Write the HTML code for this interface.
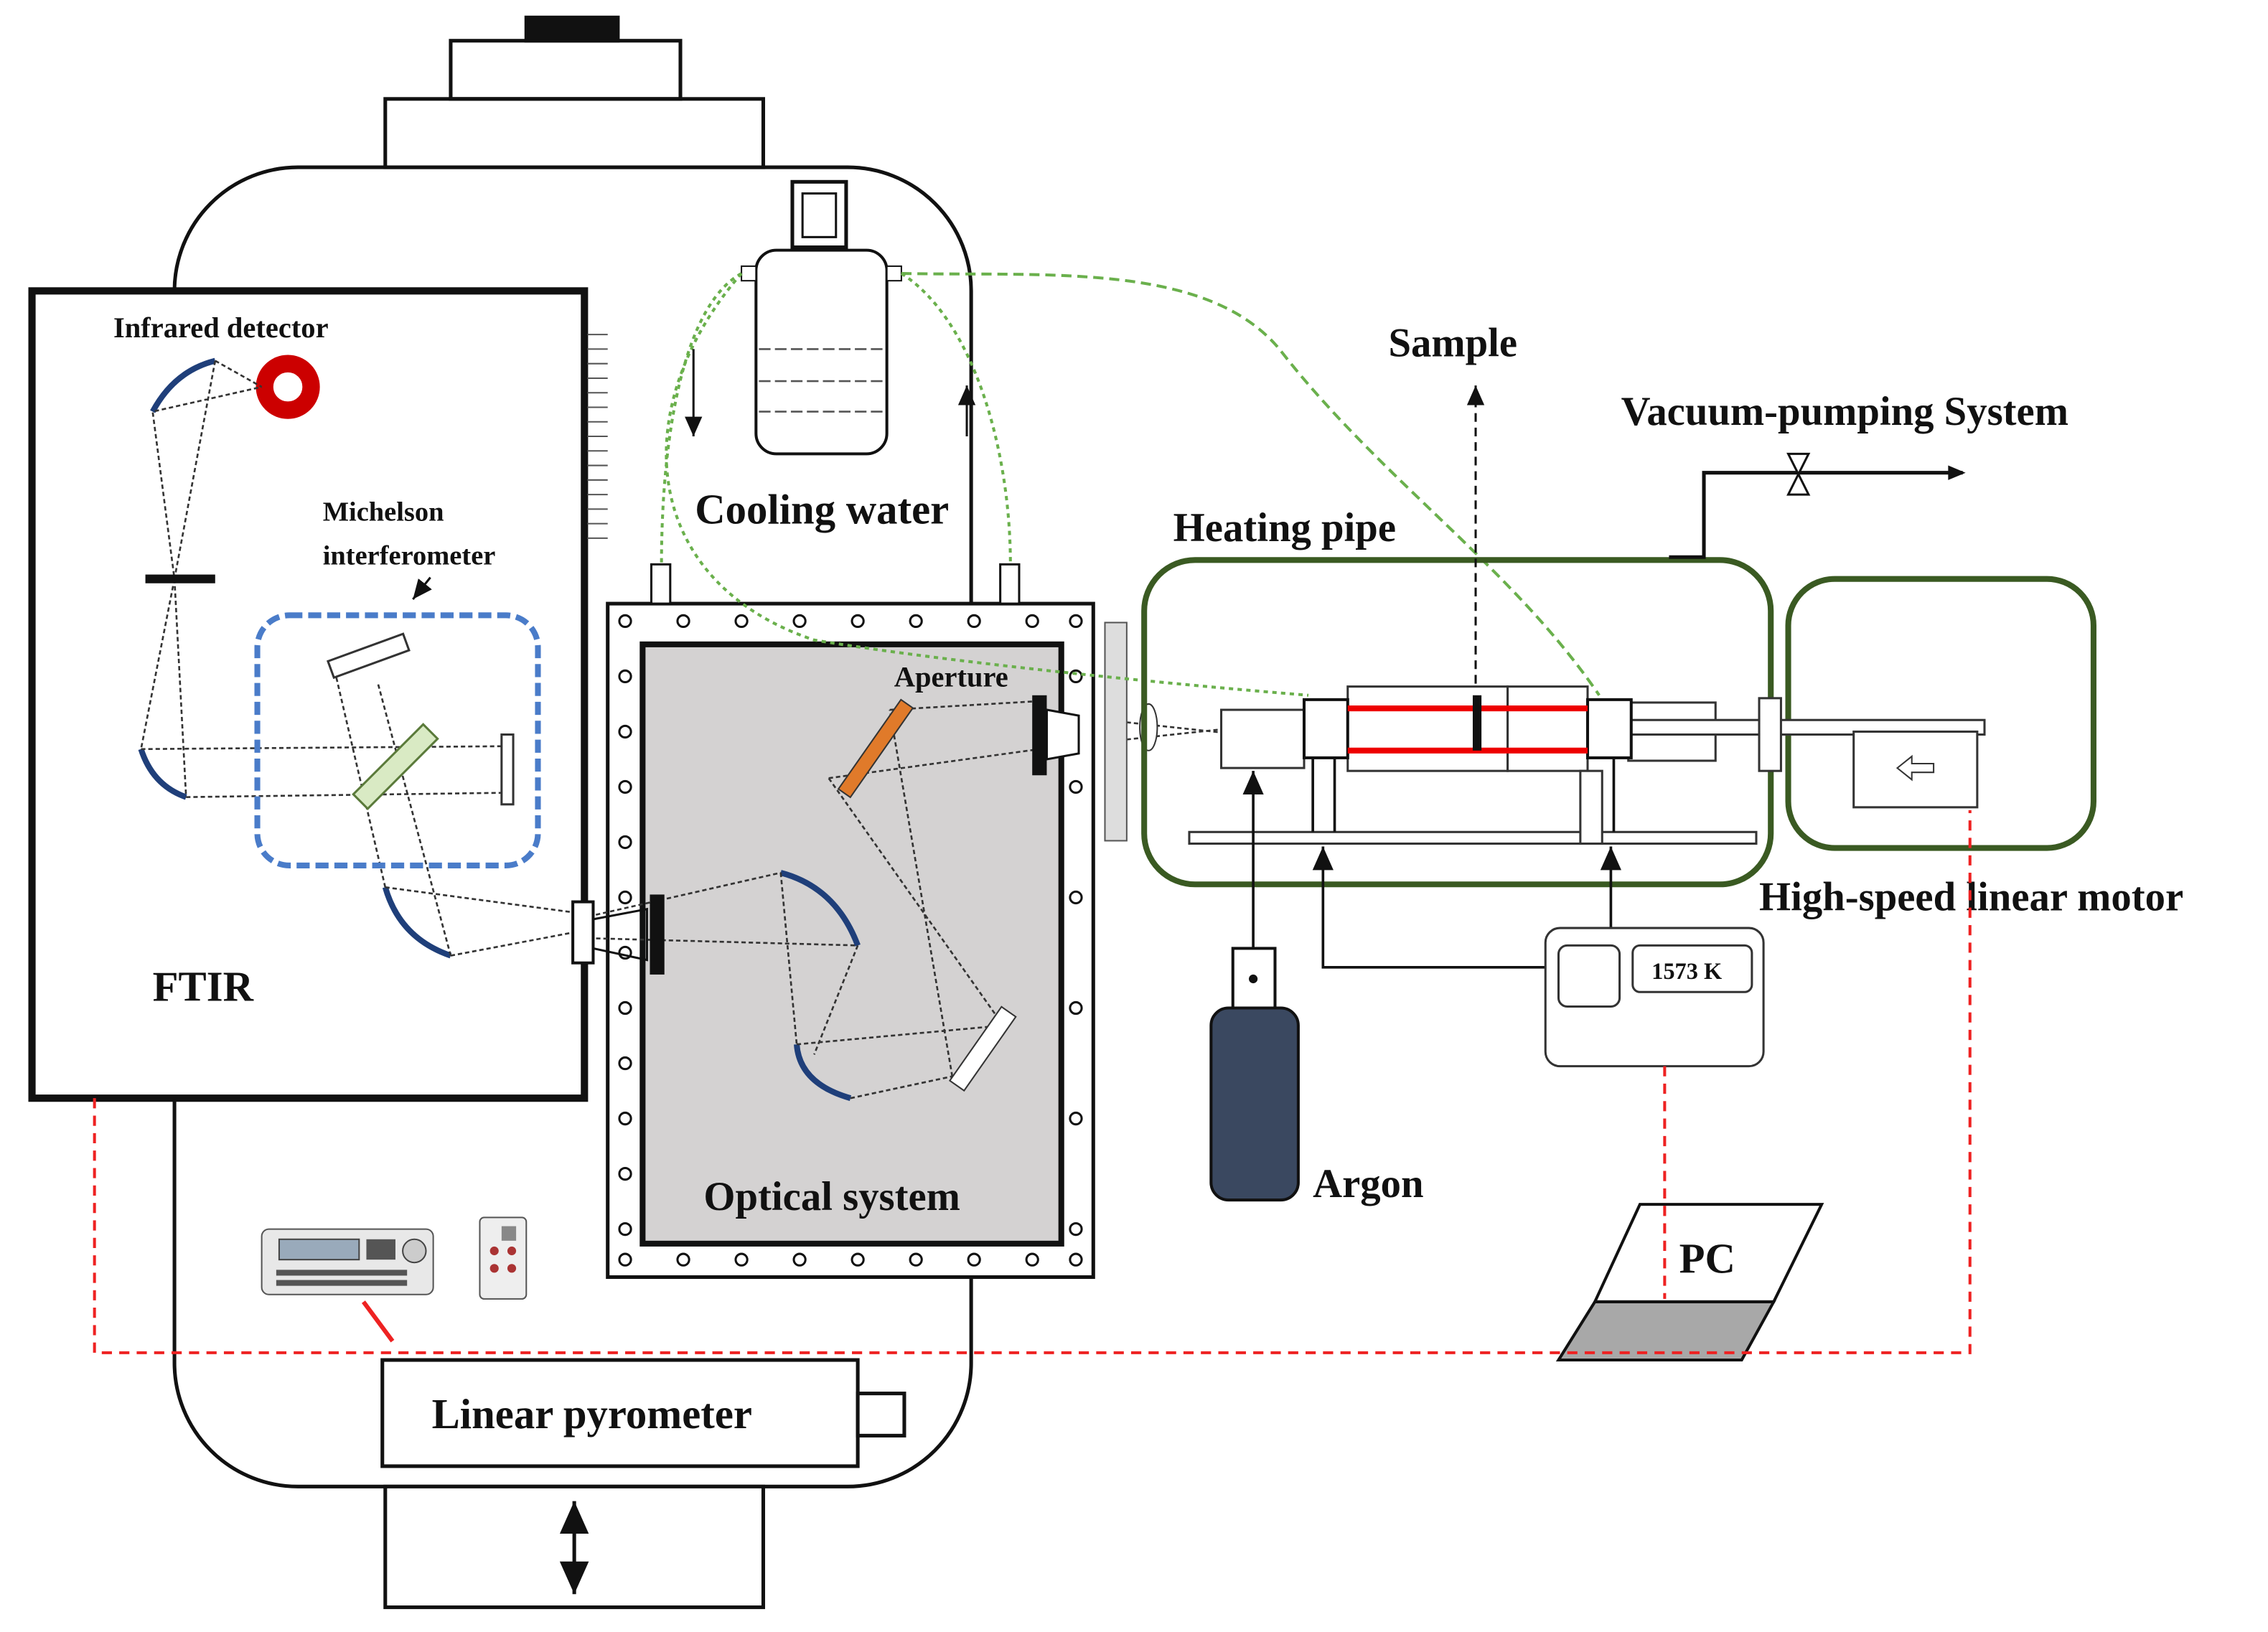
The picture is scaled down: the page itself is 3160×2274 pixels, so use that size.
<!DOCTYPE html>
<html><head><meta charset="utf-8"><style>html,body{margin:0;padding:0;background:#fff}svg{display:block}text{font-family:"Liberation Serif",serif;font-weight:bold;fill:#111}</style></head><body>
<svg width="3160" height="2274" viewBox="0 0 1560 1122" preserveAspectRatio="none" xmlns="http://www.w3.org/2000/svg">
<defs><marker id="ar" markerWidth="10" markerHeight="10" refX="9" refY="5" orient="auto-start-reverse"><path d="M0,1 L9,5 L0,9 Z" fill="#111"/></marker></defs>
<g fill="none" stroke="#111" stroke-width="2.5">
<rect x="362" y="12" width="63" height="16" fill="#111"/>
<rect x="310" y="28" width="158" height="40"/>
<rect x="265" y="68" width="260" height="47"/>
<rect x="120" y="115" width="548" height="907" rx="85"/>
<rect x="265" y="1022" width="260" height="83" fill="#fff"/>
<line x1="395" y1="1032" x2="395" y2="1096" marker-start="url(#ar)" marker-end="url(#ar)"/>
</g>
<rect x="22" y="200" width="380" height="555" fill="#fff" stroke="#111" stroke-width="5"/>
<g stroke="#555" stroke-width="1">
<line x1="404" y1="230" x2="418" y2="230"/><line x1="404" y1="240" x2="418" y2="240"/><line x1="404" y1="250" x2="418" y2="250"/><line x1="404" y1="260" x2="418" y2="260"/><line x1="404" y1="270" x2="418" y2="270"/><line x1="404" y1="280" x2="418" y2="280"/><line x1="404" y1="290" x2="418" y2="290"/><line x1="404" y1="300" x2="418" y2="300"/><line x1="404" y1="310" x2="418" y2="310"/><line x1="404" y1="320" x2="418" y2="320"/><line x1="404" y1="330" x2="418" y2="330"/><line x1="404" y1="340" x2="418" y2="340"/><line x1="404" y1="350" x2="418" y2="350"/><line x1="404" y1="360" x2="418" y2="360"/><line x1="404" y1="370" x2="418" y2="370"/>
</g>
<text x="78" y="232" font-size="20">Infrared detector</text>
<circle cx="198" cy="266" r="16" fill="#fff" stroke="#c00" stroke-width="12"/>
<!-- optical system box -->
<rect x="418" y="415" width="334" height="463" fill="#fff" stroke="#111" stroke-width="2.5"/>
<rect x="442" y="443" width="288" height="412" fill="#d4d2d2" stroke="#111" stroke-width="4"/>
<g fill="#fff" stroke="#111" stroke-width="1.5">
<circle cx="430" cy="427" r="4"/><circle cx="470" cy="427" r="4"/><circle cx="510" cy="427" r="4"/><circle cx="550" cy="427" r="4"/><circle cx="590" cy="427" r="4"/><circle cx="630" cy="427" r="4"/><circle cx="670" cy="427" r="4"/><circle cx="710" cy="427" r="4"/><circle cx="740" cy="427" r="4"/>
<circle cx="430" cy="866" r="4"/><circle cx="470" cy="866" r="4"/><circle cx="510" cy="866" r="4"/><circle cx="550" cy="866" r="4"/><circle cx="590" cy="866" r="4"/><circle cx="630" cy="866" r="4"/><circle cx="670" cy="866" r="4"/><circle cx="710" cy="866" r="4"/><circle cx="740" cy="866" r="4"/>
<circle cx="430" cy="465" r="4"/><circle cx="430" cy="503" r="4"/><circle cx="430" cy="541" r="4"/><circle cx="430" cy="579" r="4"/><circle cx="430" cy="617" r="4"/><circle cx="430" cy="655" r="4"/><circle cx="430" cy="693" r="4"/><circle cx="430" cy="731" r="4"/><circle cx="430" cy="769" r="4"/><circle cx="430" cy="807" r="4"/><circle cx="430" cy="845" r="4"/>
<circle cx="740" cy="465" r="4"/><circle cx="740" cy="541" r="4"/><circle cx="740" cy="617" r="4"/><circle cx="740" cy="693" r="4"/><circle cx="740" cy="769" r="4"/><circle cx="740" cy="845" r="4"/>
<rect x="448" y="388" width="13" height="27"/><rect x="688" y="388" width="13" height="27"/>
</g>
<g fill="none" stroke="#1f3f7a" stroke-width="4">
<path d="M105,283 Q120,255 148,248"/>
<path d="M97,515 Q105,540 128,548"/>
<path d="M265,610 Q275,645 310,657"/>
<path d="M537,600 Q575,610 590,650"/>
<path d="M548,718 Q550,745 585,755"/>
</g>
<g stroke="#333" stroke-width="1.3" stroke-dasharray="3,2" fill="none">
<path d="M148,248 L180,266 M148,248 L120,398 L105,283 L180,266 M120,398 L97,515 M120,398 L128,548"/>
<path d="M97,515 L350,513 M128,548 L350,545 M265,610 L230,460 M310,657 L260,470 M265,610 L400,628 M310,657 L400,640"/>
<path d="M405,630 L537,600 M405,645 L590,650 M590,650 L560,725 M537,600 L548,718 M548,718 L690,705 M585,755 L655,740 M690,705 L570,535 M655,740 L612,488 M612,488 L715,482 M570,535 L715,515"/>
<path d="M760,495 L900,510 M760,510 L900,495 M900,505 L1015,500"/>
</g>
<rect x="100" y="395" width="48" height="6" fill="#111"/>
<text x="222" y="358" font-size="19">Michelson</text>
<text x="222" y="388" font-size="19">interferometer</text>
<line x1="296" y1="397" x2="284" y2="412" stroke="#111" stroke-width="1.5" marker-end="url(#ar)"/>
<rect x="177" y="423" width="193" height="172" rx="22" fill="none" stroke="#4a7cc9" stroke-width="4" stroke-dasharray="9,4"/>
<rect x="226" y="445" width="55" height="12" fill="#fff" stroke="#333" stroke-width="1.5" transform="rotate(-20 253 451)"/>
<rect x="238" y="520" width="68" height="14" fill="#d9eac4" stroke="#5a7a3a" stroke-width="1.5" transform="rotate(-45 272 527)"/>
<rect x="345" y="505" width="8" height="48" fill="#fff" stroke="#333" stroke-width="1.5"/>
<text x="105" y="688" font-size="29">FTIR</text>
<rect x="394" y="620" width="14" height="42" fill="#fff" stroke="#111" stroke-width="2"/>
<rect x="447" y="615" width="10" height="55" fill="#111"/>
<rect x="710" y="478" width="10" height="55" fill="#111"/>
<path d="M720,488 L742,492 L742,518 L720,522 Z" fill="#fff" stroke="#111" stroke-width="1.5"/>
<path d="M408,632 L445,625 L445,660 L408,652" fill="none" stroke="#111" stroke-width="1.5"/>
<rect x="565" y="510" width="75" height="10" fill="#e07a2a" stroke="#333" transform="rotate(-55 602 515)"/>
<rect x="645" y="715" width="62" height="12" fill="#fff" stroke="#333" transform="rotate(-55 676 721)"/>
<text x="615" y="472" font-size="20">Aperture</text>
<text x="484" y="832" font-size="28">Optical system</text>
<rect x="760" y="428" width="15" height="150" fill="#ddd" stroke="#555"/>
<ellipse cx="790" cy="500" rx="6" ry="16" fill="#fff" stroke="#333"/>
<!-- cooling water -->
<rect x="545" y="125" width="37" height="45" fill="#fff" stroke="#111" stroke-width="2.5"/>
<rect x="552" y="133" width="23" height="30" fill="#fff" stroke="#111" stroke-width="1.5"/>
<rect x="520" y="172" width="90" height="140" rx="14" fill="#fff" stroke="#111" stroke-width="2"/>
<rect x="510" y="183" width="10" height="10" fill="#fff" stroke="#111"/><rect x="610" y="183" width="10" height="10" fill="#fff" stroke="#111"/>
<g stroke="#555" stroke-width="1.3" stroke-dasharray="8,3"><line x1="522" y1="240" x2="608" y2="240"/><line x1="522" y1="262" x2="608" y2="262"/><line x1="522" y1="283" x2="608" y2="283"/></g>
<text x="478" y="360" font-size="29">Cooling water</text>
<g fill="none" stroke="#6ab04c" stroke-width="2" stroke-dasharray="3,3">
<path d="M510,188 C470,210 455,300 455,388"/>
<path d="M620,188 C670,220 695,310 695,388"/>
<path d="M510,188 C430,280 440,400 560,440 C650,455 800,470 900,478"/>
</g>
<g fill="none" stroke="#6ab04c" stroke-width="2" stroke-dasharray="7,4">
<path d="M620,188 C720,190 830,180 880,240 C950,330 1040,390 1100,478"/>
</g>
<line x1="477" y1="240" x2="477" y2="300" stroke="#111" stroke-width="1.5" marker-end="url(#ar)"/>
<line x1="665" y1="300" x2="665" y2="265" stroke="#111" stroke-width="1.5" marker-end="url(#ar)"/>
<!-- heating pipe -->
<rect x="787" y="385" width="431" height="223" rx="35" fill="none" stroke="#3a5a22" stroke-width="4"/>
<rect x="1230" y="398" width="210" height="185" rx="32" fill="none" stroke="#3a5a22" stroke-width="4"/>
<text x="807" y="372" font-size="28">Heating pipe</text>
<text x="955" y="245" font-size="28">Sample</text>
<text x="1115" y="292" font-size="28">Vacuum-pumping System</text>
<text x="1210" y="626" font-size="28">High-speed linear motor</text>
<path d="M1148,383 L1172,383 L1172,325 L1350,325" fill="none" stroke="#111" stroke-width="2.5"/>
<path d="M1340,320 L1352,325 L1340,330 Z" fill="#111"/>
<path d="M1230,312 L1244,312 L1230,340 L1244,340 Z" fill="#fff" stroke="#111" stroke-width="1.5"/>
<line x1="1015" y1="500" x2="1015" y2="265" stroke="#111" stroke-width="1.5" stroke-dasharray="6,4" marker-end="url(#ar)"/>
<g fill="#fff" stroke="#333" stroke-width="1.5">
<rect x="840" y="488" width="57" height="40"/>
<rect x="927" y="472" width="110" height="58"/>
<rect x="1037" y="472" width="55" height="58"/>
<rect x="1120" y="483" width="60" height="40"/>
<rect x="1100" y="495" width="265" height="10"/>
<rect x="1275" y="503" width="85" height="52"/>
<rect x="1210" y="480" width="15" height="50"/>
<rect x="818" y="572" width="390" height="8"/>
<rect x="897" y="481" width="30" height="40" stroke="#111" stroke-width="2"/>
<rect x="1092" y="481" width="30" height="40" stroke="#111" stroke-width="2"/>
<rect x="1087" y="530" width="15" height="50"/>
</g>
<line x1="927" y1="487" x2="1092" y2="487" stroke="#e00" stroke-width="4"/>
<line x1="927" y1="516" x2="1092" y2="516" stroke="#e00" stroke-width="4"/>
<rect x="1013" y="478" width="6" height="38" fill="#111"/>
<g stroke="#111" stroke-width="1.8" fill="none">
<line x1="903" y1="521" x2="903" y2="572"/><line x1="918" y1="521" x2="918" y2="572"/><line x1="1110" y1="521" x2="1110" y2="572"/>
<line x1="862" y1="652" x2="862" y2="530" marker-end="url(#ar)"/>
<path d="M1063,665 L910,665 L910,582" marker-end="url(#ar)"/>
<line x1="1108" y1="638" x2="1108" y2="582" marker-end="url(#ar)"/>
</g>
<path d="M1305,528 L1315,520 L1315,525 L1330,525 L1330,531 L1315,531 L1315,536 Z" fill="#fff" stroke="#333"/>
<!-- argon -->
<rect x="848" y="652" width="29" height="41" fill="#fff" stroke="#111" stroke-width="2"/>
<circle cx="862" cy="673" r="3" fill="#111"/>
<rect x="833" y="693" width="60" height="132" rx="12" fill="#3a4860" stroke="#111" stroke-width="2"/>
<text x="903" y="823" font-size="28">Argon</text>
<!-- controller -->
<rect x="1063" y="638" width="150" height="95" rx="10" fill="#fff" stroke="#333" stroke-width="1.5"/>
<rect x="1072" y="650" width="42" height="42" rx="6" fill="#fff" stroke="#333" stroke-width="1.5"/>
<rect x="1123" y="650" width="82" height="32" rx="5" fill="#fff" stroke="#333" stroke-width="1.5"/>
<text x="1136" y="673" font-size="16">1573 K</text>
<!-- PC -->
<path d="M1128,828 L1253,828 L1220,895 L1097,895 Z" fill="#fff" stroke="#111" stroke-width="2"/>
<path d="M1097,895 L1220,895 L1198,935 L1072,935 Z" fill="#a8a8a8" stroke="#111" stroke-width="2"/>
<text x="1155" y="875" font-size="29">PC</text>
<!-- red dashed -->
<g fill="none" stroke="#e22" stroke-width="2" stroke-dasharray="7,5">
<path d="M65,755 L65,930 L1355,930 L1355,557"/>
<line x1="1145" y1="733" x2="1145" y2="893"/>
</g>
<line x1="250" y1="895" x2="270" y2="922" stroke="#e22" stroke-width="3"/>
<!-- instruments -->
<rect x="180" y="845" width="118" height="45" rx="5" fill="#e8e8e8" stroke="#555"/>
<rect x="192" y="852" width="55" height="14" fill="#9ab" stroke="#444"/>
<circle cx="285" cy="860" r="8" fill="#ccc" stroke="#444"/>
<g fill="#555"><rect x="190" y="873" width="90" height="4"/><rect x="190" y="880" width="90" height="4"/><rect x="252" y="852" width="20" height="14"/></g>
<rect x="330" y="837" width="32" height="56" rx="3" fill="#eee" stroke="#555"/>
<g fill="#a33"><circle cx="340" cy="860" r="3"/><circle cx="352" cy="860" r="3"/><circle cx="340" cy="872" r="3"/><circle cx="352" cy="872" r="3"/></g>
<rect x="345" y="843" width="10" height="10" fill="#888"/>
<!-- linear pyrometer -->
<rect x="263" y="935" width="327" height="73" fill="#fff" stroke="#111" stroke-width="2.5"/>
<rect x="590" y="958" width="32" height="29" fill="#fff" stroke="#111" stroke-width="2.5"/>
<text x="297" y="982" font-size="29">Linear pyrometer</text>
</svg>
</body></html>
